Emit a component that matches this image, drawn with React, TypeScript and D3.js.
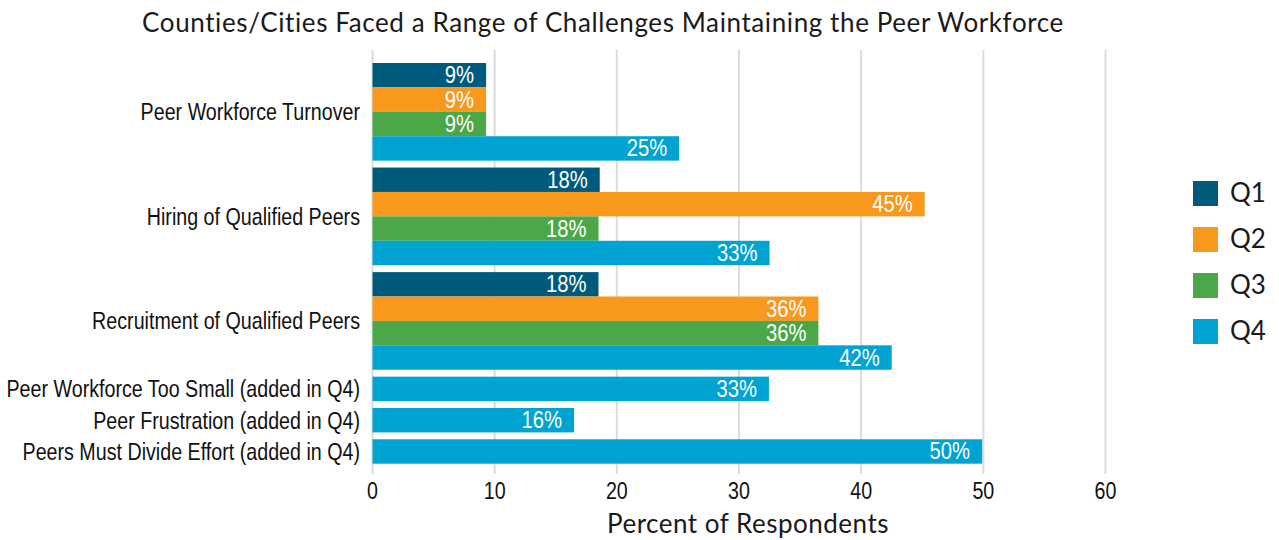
import React from "react";
import * as d3 from "d3";

const title = "Counties/Cities Faced a Range of Challenges Maintaining the Peer Workforce";
const xAxisTitle = "Percent of Respondents";
const categories = [
  "Peer Workforce Turnover",
  "Hiring of Qualified Peers",
  "Recruitment of Qualified Peers",
  "Peer Workforce Too Small (added in Q4)",
  "Peer Frustration (added in Q4)",
  "Peers Must Divide Effort (added in Q4)",
];
const seriesNames = ["Q1", "Q2", "Q3", "Q4"];
const seriesColors = ["#005a7c", "#f8981d", "#4ba748", "#00a3d1"];
const q1Values = [9.3, 18.6, 18.5, null, null, null];
const q2Values = [9.3, 45.2, 36.5, null, null, null];
const q3Values = [9.3, 18.5, 36.5, null, null, null];
const q4Values = [25.1, 32.5, 42.5, 32.45, 16.5, 49.9];
const q1Labels = ["9%", "18%", "18%", "", "", ""];
const q2Labels = ["9%", "45%", "36%", "", "", ""];
const q3Labels = ["9%", "18%", "36%", "", "", ""];
const q4Labels = ["25%", "33%", "42%", "33%", "16%", "50%"];
const xTicks = [0, 10, 20, 30, 40, 50, 60];

const seriesValues = [q1Values, q2Values, q3Values, q4Values];
const seriesLabels = [q1Labels, q2Labels, q3Labels, q4Labels];

const W = 1279;
const H = 540;
const narrow = "'Liberation Sans', Arial, sans-serif";
const avenir = "Lato, 'Open Sans', sans-serif";
const NARROW = 0.82;

function NText(props: {
  x: number;
  y: number;
  size: number;
  anchor: string;
  fill: string;
  sx?: number;
  children: React.ReactNode;
}) {
  const sx = props.sx ?? NARROW;
  return (
    <g transform={`translate(${props.x},${props.y}) scale(${sx},1)`}>
      <text x={0} y={0} textAnchor={props.anchor} fontFamily={narrow} fontSize={props.size} fill={props.fill}>
        {props.children}
      </text>
    </g>
  );
}

export default function App() {
  const x = d3.scaleLinear().domain([0, 60]).range([372.5, 1105.5]);

  const gapUnit = 0.283;
  const catInfo: { start: number; bars: { s: number; v: number; label: string }[] }[] = [];
  let cursor = 0;
  categories.forEach((c, ci) => {
    const bars: { s: number; v: number; label: string }[] = [];
    seriesValues.forEach((vals, si) => {
      const v = vals[ci];
      if (v !== null && v !== undefined) bars.push({ s: si, v: v as number, label: seriesLabels[si][ci] });
    });
    catInfo.push({ start: cursor, bars });
    cursor += bars.length + (ci < categories.length - 1 ? gapUnit : 0);
  });
  const y = d3.scaleLinear().domain([0, cursor]).range([63, 463.7]);
  const bh = y(1) - y(0);

  return (
    <svg width={W} height={H} style={{ position: "absolute", left: 0, top: 0, background: "#fff" }}>
      <text x={603} y={32} textAnchor="middle" fontFamily={avenir} fontSize={26} letterSpacing={0.6} fill="#1a1a1a">
        {title}
      </text>
      {xTicks.map((t) => (
        <line key={"g" + t} x1={x(t)} x2={x(t)} y1={50} y2={474} stroke="#dcdcdc" strokeWidth={2} />
      ))}
      {catInfo.map((ci, i) => (
        <g key={categories[i]}>
          {ci.bars.map((b, j) => {
            const y0 = y(ci.start + j);
            return (
              <g key={j}>
                <rect x={x(0)} y={y0} width={x(b.v) - x(0)} height={bh} fill={seriesColors[b.s]} />
                <NText x={x(b.v) - 12} y={y0 + bh / 2 + 8} size={23} sx={0.88} anchor="end" fill="#fff">
                  {b.label}
                </NText>
              </g>
            );
          })}
          <NText
            x={360}
            y={(y(ci.start) + y(ci.start + ci.bars.length)) / 2 + 8.5}
            size={24}
            anchor="end"
            fill="#111"
          >
            {categories[i]}
          </NText>
        </g>
      ))}
      {xTicks.map((t) => (
        <NText key={"t" + t} x={x(t)} y={499} size={24} anchor="middle" fill="#111">
          {t}
        </NText>
      ))}
      <text x={748} y={533} textAnchor="middle" fontFamily={avenir} fontSize={26} letterSpacing={0.5} fill="#1a1a1a">
        {xAxisTitle}
      </text>
      {seriesNames.map((s, i) => (
        <g key={s}>
          <rect x={1193} y={181 + i * 46} width={25} height={25} fill={seriesColors[i]} />
          <text x={1230} y={202 + i * 46} fontFamily={avenir} fontSize={26} fill="#1a1a1a">
            {s}
          </text>
        </g>
      ))}
    </svg>
  );
}
